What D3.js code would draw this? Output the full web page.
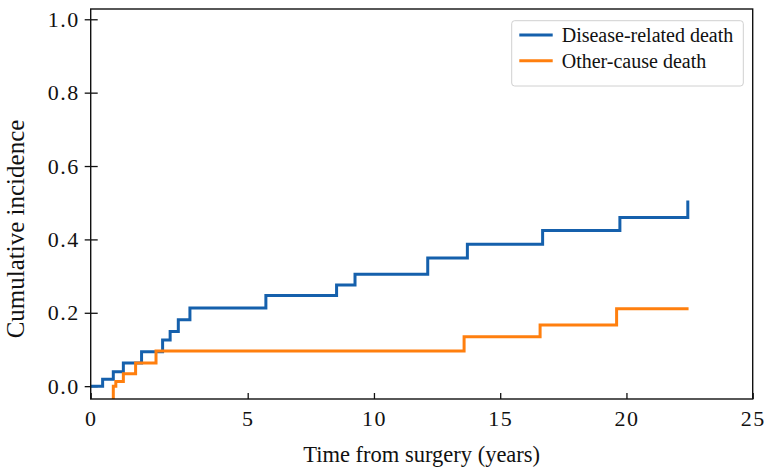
<!DOCTYPE html>
<html>
<head>
<meta charset="utf-8">
<script src="https://cdn.jsdelivr.net/npm/d3@7"></script>
<style>
  body { margin: 0; background: #fff; }
  .title { font-family: "Liberation Serif", serif; fill: #111; }
</style>
</head>
<body>
<div class="container"></div>
<script>
// cumulative incidence steps
const diseaseTimes = [0, 0.38, 0.72, 1.04, 1.62, 2.29, 2.53, 2.79, 3.16, 5.72, 8.52, 9.25, 12.13, 13.70, 16.68, 19.74, 22.43]
const diseaseCI    = [0, 0.019, 0.039, 0.063, 0.094, 0.126, 0.149, 0.181, 0.213, 0.247, 0.276, 0.305, 0.349, 0.387, 0.424, 0.460, 0.506]
const otherTimes   = [0.72, 0.72, 0.80, 1.04, 1.43, 2.08, 13.57, 16.58, 19.61, 22.46]
const otherCI      = [-0.035, 0, 0.0125, 0.034, 0.063, 0.096, 0.135, 0.167, 0.211, 0.211]
const xTicks = [0, 5, 10, 15, 20, 25]
const yTicks = [0, 0.2, 0.4, 0.6, 0.8, 1.0]
const seriesNames = ["Disease-related death", "Other-cause death"]
const seriesColors = ["#1560ac", "#ff7f0e"]

const width = 769
const height = 475
const plot = {left: 90.7, right: 752.7, top: 9, bottom: 399}

const svg = d3.select(".container")
    .append("svg")
    .attr("width", width)
    .attr("height", height)

// the x axis in the figure is not uniform between 0 and 5
const x = d3.scaleLinear()
    .domain([0, 5, 25])
    .range([plot.left, 247.7, plot.right])

const y = d3.scaleLinear()
    .domain([-0.035, 1.028])
    .range([plot.bottom, plot.top])

svg.append("clipPath")
    .attr("id", "clip")
    .append("rect")
    .attr("x", plot.left)
    .attr("y", plot.top)
    .attr("width", plot.right - plot.left)
    .attr("height", plot.bottom - plot.top)

function styleTicks(g) {
    g.select(".domain").remove()
    g.attr("font-family", "Liberation Serif").attr("font-size", 22)
    g.selectAll(".tick line").attr("stroke", "#111").attr("stroke-width", 1.3)
    g.selectAll(".tick text")
        .attr("font-family", "Liberation Serif")
        .attr("font-size", 22)
        .attr("letter-spacing", 1.5)
        .attr("fill", "#111")
}

// x axis
svg.append("g")
    .attr("transform", `translate(0, ${plot.bottom})`)
    .call(d3.axisBottom(x).tickValues(xTicks).tickFormat(d3.format("d"))
        .tickSizeInner(-6).tickSizeOuter(0).tickPadding(11))
    .call(styleTicks)

// y axis, ticks cross the spine
const yAxis = svg.append("g")
    .attr("transform", `translate(${plot.left}, 0)`)
    .call(d3.axisLeft(y).tickValues(yTicks).tickFormat(d3.format(".1f"))
        .tickSizeInner(6).tickSizeOuter(0).tickPadding(5))
    .call(styleTicks)
yAxis.selectAll(".tick line").attr("x1", 7)

const line = d3.line()
    .x(d => x(d[0]))
    .y(d => y(d[1]))
    .curve(d3.curveStepAfter)

const series = [
    d3.zip(diseaseTimes, diseaseCI),
    d3.zip(otherTimes, otherCI)
]

svg.append("g")
    .attr("clip-path", "url(#clip)")
    .selectAll("path")
    .data(series)
    .enter()
    .append("path")
    .attr("d", line)
    .attr("fill", "none")
    .attr("stroke", (d, i) => seriesColors[i])
    .attr("stroke-width", 3)

// frame
svg.append("rect")
    .attr("x", plot.left)
    .attr("y", plot.top)
    .attr("width", plot.right - plot.left)
    .attr("height", plot.bottom - plot.top)
    .attr("fill", "none")
    .attr("stroke", "#111")
    .attr("stroke-width", 1.4)

// axis titles
svg.append("text")
    .attr("class", "title")
    .attr("x", (plot.left + plot.right) / 2)
    .attr("y", 462)
    .attr("text-anchor", "middle")
    .style("font-size", "22.5px")
    .text("Time from surgery (years)")

svg.append("text")
    .attr("class", "title")
    .attr("transform", "translate(24, 229) rotate(-90)")
    .attr("text-anchor", "middle")
    .style("font-size", "25px")
    .text("Cumulative incidence")

// legend
const legend = svg.append("g")
legend.append("rect")
    .attr("x", 511.7)
    .attr("y", 20.7)
    .attr("width", 231.6)
    .attr("height", 65.3)
    .attr("rx", 3)
    .attr("fill", "#fff")
    .attr("stroke", "#d0d0d0")
    .attr("stroke-width", 1)

const items = legend.selectAll("g.item")
    .data(seriesNames)
    .enter()
    .append("g")
    .attr("class", "item")
    .attr("transform", (d, i) => `translate(0, ${35 + i * 25.7})`)

items.append("line")
    .attr("x1", 519.3)
    .attr("x2", 552.7)
    .attr("stroke", (d, i) => seriesColors[i])
    .attr("stroke-width", 3)

items.append("text")
    .attr("class", "title")
    .attr("x", 561.7)
    .attr("dy", "0.34em")
    .style("font-size", "20px")
    .text(d => d)
</script>
</body>
</html>
